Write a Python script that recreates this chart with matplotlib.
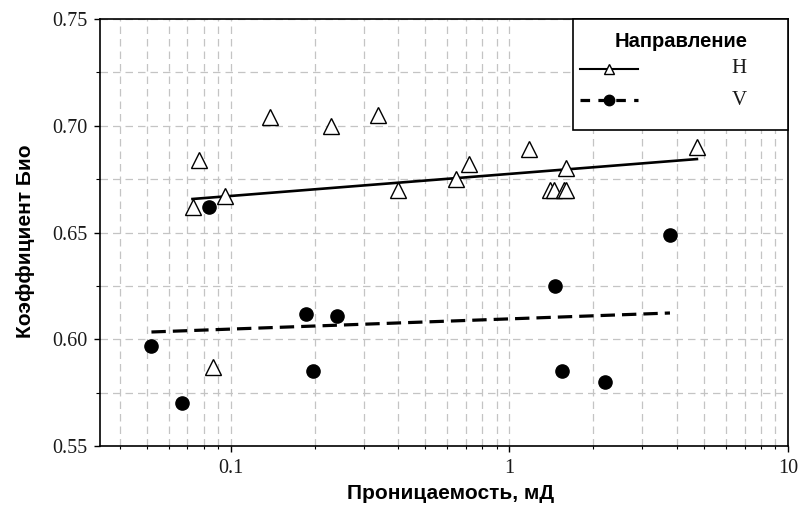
import matplotlib
matplotlib.use("Agg")
import matplotlib.pyplot as plt
from matplotlib.lines import Line2D
from matplotlib.patches import Rectangle
from matplotlib.ticker import LogLocator, FixedLocator, MultipleLocator, FuncFormatter

# Horizontal samples (H): permeability, mD and Biot coefficient
h_perm = [0.073, 0.077, 0.0955, 0.138, 0.229, 0.337, 0.398, 0.643, 0.716,
          1.18, 1.40, 1.45, 1.57, 1.60, 1.60, 4.71, 0.0862]
h_biot = [0.662, 0.684, 0.667, 0.704, 0.700, 0.705, 0.670, 0.675, 0.682,
          0.689, 0.670, 0.670, 0.670, 0.670, 0.680, 0.690, 0.587]

# Vertical samples (V)
v_perm = [0.052, 0.0667, 0.0834, 0.186, 0.197, 0.240, 1.456, 1.54, 2.20, 3.77]
v_biot = [0.597, 0.570, 0.662, 0.612, 0.585, 0.611, 0.625, 0.585, 0.580, 0.649]

# Logarithmic trend lines (end points)
h_trend_perm = [0.073, 4.71]
h_trend_biot = [0.6657, 0.6844]
v_trend_perm = [0.052, 3.77]
v_trend_biot = [0.6034, 0.6123]

x_ticks = [0.1, 1, 10]
y_ticks = [0.55, 0.60, 0.65, 0.70, 0.75]

legend_title = "Направление"
series_labels = ["H", "V"]
x_label = "Проницаемость, мД"
y_label = "Коэффициент Био"

SANS = "Liberation Sans"
SERIF = "Liberation Serif"

fig = plt.figure(figsize=(8.02, 5.11), dpi=100)
ax = fig.add_axes([0.1247, 0.1272, 0.8579, 0.8356])

ax.set_xscale("log")
ax.set_xlim(0.034, 10)
ax.set_ylim(0.55, 0.75)

# grid on major and minor ticks
grid_kw = dict(color="#c4c4c4", linestyle=(0, (6, 4)), linewidth=0.9)
ax.xaxis.set_major_locator(FixedLocator(x_ticks))
ax.xaxis.set_minor_locator(LogLocator(base=10, subs=range(2, 10)))
ax.yaxis.set_major_locator(FixedLocator(y_ticks))
ax.yaxis.set_minor_locator(MultipleLocator(0.025))
ax.xaxis.set_major_formatter(FuncFormatter(lambda v, p: f"{v:g}"))
ax.xaxis.set_minor_formatter(FuncFormatter(lambda v, p: ""))
ax.yaxis.set_major_formatter(FuncFormatter(lambda v, p: f"{v:.2f}"))
ax.grid(True, which="both", **grid_kw)
ax.set_axisbelow(True)

ax.tick_params(which="major", direction="out", length=4, width=1, color="black",
               labelsize=14.5, pad=5, top=False, right=False)
ax.tick_params(which="minor", direction="out", length=2, width=0.8, color="black",
               top=False, right=False)
ax.tick_params(axis="y", which="minor", length=3)
for lab in ax.get_xticklabels() + ax.get_yticklabels():
    lab.set_fontfamily(SERIF)
    lab.set_color("#1a1a1a")

for s in ax.spines.values():
    s.set_linewidth(1.2)
    s.set_color("black")

# data
ax.plot(h_perm, h_biot, linestyle="none", marker="^", markersize=11,
        markerfacecolor="white", markeredgecolor="black", markeredgewidth=1.0,
        zorder=4)
ax.plot(v_perm, v_biot, linestyle="none", marker="o", markersize=9.5,
        markerfacecolor="black", markeredgecolor="black", zorder=4)
ax.plot(h_trend_perm, h_trend_biot, color="black", linewidth=1.9, zorder=3)
ax.plot(v_trend_perm, v_trend_biot, color="black", linewidth=2.3,
        linestyle=(0, (4.5, 2.2)), zorder=3)

ax.set_xlabel(x_label, fontfamily=SANS, fontweight="bold", fontsize=15)
ax.set_ylabel(y_label, fontfamily=SANS, fontweight="bold", fontsize=15)
ax.xaxis.set_label_coords(0.51, -0.088)
ax.yaxis.set_label_coords(-0.095, 0.48)

# legend box
box = Rectangle((0.6875, 0.740), 0.3125, 0.260, transform=ax.transAxes,
                facecolor="white", edgecolor="black", linewidth=1.2, zorder=6,
                clip_on=False)
ax.add_patch(box)
ax.text(0.8440, 0.948, legend_title, transform=ax.transAxes, ha="center",
        va="center", fontfamily=SANS, fontweight="bold", fontsize=14.5, zorder=7)

handle_x = [0.698, 0.782]
rows = [
    (0.883, "-", "^", "white", 6.5, 1.5, series_labels[0]),
    (0.810, (0, (3.0, 2.6)), "o", "black", 7.5, 2.3, series_labels[1]),
]
for y, ls, mk, mfc, ms, lw, lbl in rows:
    ax.add_line(Line2D(handle_x, [y, y], transform=ax.transAxes, color="black",
                       linestyle=ls, linewidth=lw, zorder=7, clip_on=False))
    ax.add_line(Line2D([sum(handle_x) / 2], [y], transform=ax.transAxes,
                       linestyle="none", marker=mk, markersize=ms,
                       markerfacecolor=mfc, markeredgecolor="black",
                       markeredgewidth=1.0, zorder=8, clip_on=False))
    ax.text(0.929, y, lbl, transform=ax.transAxes, ha="center", va="center",
            fontfamily=SERIF, fontsize=15, zorder=7, color="#1a1a1a")

fig.savefig("out.png", dpi=100)
